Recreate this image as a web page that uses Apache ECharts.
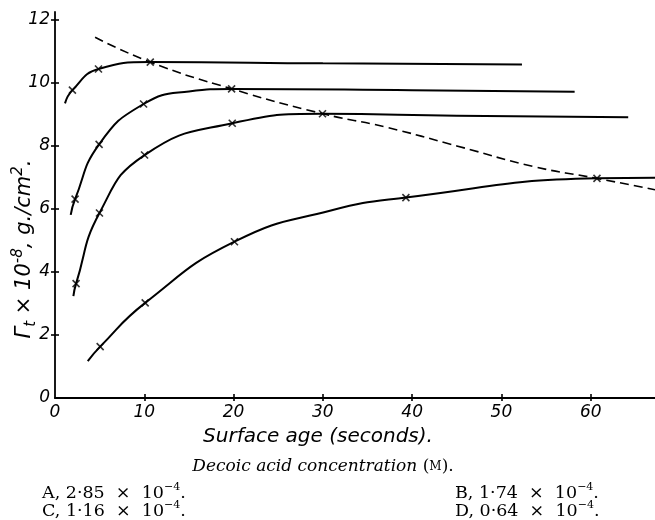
<!DOCTYPE html>
<html><head><meta charset="utf-8">
<script src="https://cdn.jsdelivr.net/npm/echarts@6/dist/echarts.min.js"></script>
<style>html,body{margin:0;padding:0;background:#fff}#c{width:655px;height:520px}</style>
</head><body><div id="c"></div>
<script>
// ---- data ----
const xTicks = [10, 20, 30, 40, 50, 60];
const yTicks = [2, 4, 6, 8, 10, 12];
const xTickLabels = [0, 10, 20, 30, 40, 50, 60];
const yTickLabels = [0, 2, 4, 6, 8, 10, 12];

const lineA_t = [1.12, 1.95, 4.87, 10.67, 30, 52.3];
const lineA_v = [9.35, 9.77, 10.44, 10.66, 10.62, 10.58];
const markA_t = [1.95, 4.87, 10.67];
const markA_v = [9.77, 10.44, 10.66];

const lineB_t = [1.76, 2.25, 4.94, 9.92, 15, 19.78, 40, 58.2];
const lineB_v = [5.81, 6.31, 8.05, 9.33, 9.73, 9.81, 9.77, 9.72];
const markB_t = [2.25, 4.94, 9.92, 19.78];
const markB_v = [6.31, 8.05, 9.33, 9.81];

const lineC_t = [2.06, 2.36, 4.98, 10.03, 19.85, 29.96, 45, 64.2];
const lineC_v = [3.23, 3.63, 5.87, 7.71, 8.72, 9.02, 8.96, 8.91];
const markC_t = [2.36, 4.98, 10.03, 19.85, 29.96];
const markC_v = [3.63, 5.87, 7.71, 8.72, 9.02];

const lineD_t = [3.67, 5.06, 10.1, 20.1, 30.9, 39.3, 60.7, 67.2];
const lineD_v = [1.17, 1.63, 3.02, 4.96, 5.95, 6.36, 6.97, 6.99];
const markD_t = [5.06, 10.1, 20.1, 39.3, 60.7];
const markD_v = [1.63, 3.02, 4.96, 6.36, 6.97];

const dash_t = [4.49, 10.67, 19.8, 30, 37, 45, 53.7, 60.7, 67.2];
const dash_v = [11.45, 10.66, 9.81, 9.02, 8.6, 8.0, 7.34, 6.97, 6.61];

const curveNames = ['A', 'B', 'C', 'D'];
const nameLabel_t = [41.8, 41.9, 41.8, 41.9];
const nameLabel_v = [11.0, 10.04, 9.3, 6.82];

const concLetters = ['A', 'B', 'C', 'D'];
const concValues = ['2·85', '1·74', '1·16', '0·64'];

// ---- build ----
const zip = (a, b) => a.map((v, i) => [v, b[i]]);
const XMIN = 0, XMAX = 67.2, YMIN = 0, YMAX = 12.25;
const axisFont = { fontFamily: 'DejaVu Sans', fontStyle: 'italic', fontSize: 17, color: '#000' };
const crossPath = 'path://M0,0L10,10M10,0L0,10';

function curve(t, v, dashed) {
  return {
    type: 'line', data: zip(t, v), smooth: 0.5, symbol: 'none',
    lineStyle: { color: '#000', width: dashed ? 1.6 : 2, type: dashed ? [9, 5] : 'solid' },
    silent: true, z: 2
  };
}
function marks(t, v) {
  return {
    type: 'scatter', data: zip(t, v), symbol: crossPath, symbolSize: 7,
    itemStyle: { color: 'none', borderColor: '#000', borderWidth: 1.6 }, silent: true, z: 3
  };
}

const series = [
  curve(lineA_t, lineA_v), marks(markA_t, markA_v),
  curve(lineB_t, lineB_v), marks(markB_t, markB_v),
  curve(lineC_t, lineC_v), marks(markC_t, markC_v),
  curve(lineD_t, lineD_v), marks(markD_t, markD_v),
  curve(dash_t, dash_v, true),
  {
    type: 'scatter', symbol: 'none', silent: true, z: 4,
    data: curveNames.map((n, i) => ({ value: [nameLabel_t[i], nameLabel_v[i]], name: n })),
    label: { show: true, position: 'inside', formatter: '{b}', fontFamily: 'DejaVu Serif', fontWeight: 'bold', fontSize: 17, color: '#000' }
  }
];

const chart = echarts.init(document.getElementById('c'), null, { renderer: 'canvas' });
const graphic = [
  {
    type: 'text', x: 25, y: 249, rotation: Math.PI / 2,
    style: {
      text: '{n|Γ}{sub|t}{n| × 10}{sup|-8}{n|, g./cm}{sup|2}{n|.}',
      align: 'center', verticalAlign: 'middle',
      rich: {
        n: { fontFamily: 'DejaVu Sans', fontStyle: 'italic', fontSize: 21, fill: '#000', lineHeight: 28, verticalAlign: 'middle' },
        sub: { fontFamily: 'DejaVu Sans', fontStyle: 'italic', fontSize: 15, fill: '#000', lineHeight: 28, verticalAlign: 'bottom' },
        sup: { fontFamily: 'DejaVu Sans', fontStyle: 'italic', fontSize: 15, fill: '#000', lineHeight: 28, verticalAlign: 'top' }
      }
    }
  },
  {
    type: 'text', x: 318, y: 437,
    style: {
      text: 'Surface age (seconds).', align: 'center', verticalAlign: 'middle',
      fontFamily: 'DejaVu Sans', fontStyle: 'italic', fontSize: 20, fill: '#000'
    }
  },
  {
    type: 'text', x: 323, y: 467,
    style: {
      text: '{i|Decoic acid concentration }{n|(}{s|M}{n|).}',
      align: 'center', verticalAlign: 'middle',
      rich: {
        i: { fontFamily: 'DejaVu Serif', fontStyle: 'italic', fontSize: 17, fill: '#000' },
        n: { fontFamily: 'DejaVu Serif', fontSize: 17, fill: '#000' },
        s: { fontFamily: 'DejaVu Serif', fontSize: 12, fill: '#000' }
      }
    }
  }
];
const concPos = [[42, 492], [455, 492], [42, 510], [455, 510]];
concLetters.forEach((L, i) => {
  graphic.push({
    type: 'text', x: concPos[i][0], y: concPos[i][1],
    style: {
      text: `{n|${L}, ${concValues[i]}  ×  10}{sup|−4}{n|.}`,
      align: 'left', verticalAlign: 'middle',
      rich: {
        n: { fontFamily: 'DejaVu Serif', fontSize: 17.5, fill: '#000', verticalAlign: 'bottom', lineHeight: 20 },
        sup: { fontFamily: 'DejaVu Serif', fontSize: 11, fill: '#000', verticalAlign: 'top', lineHeight: 20 }
      }
    }
  });
});

chart.setOption({
  animation: false,
  grid: { left: 55, right: 0, top: 12, bottom: 122, containLabel: false, outerBoundsMode: 'none' },
  xAxis: [
    {
      type: 'value', min: XMIN, max: XMAX,
      axisLine: { show: true, lineStyle: { color: '#000', width: 1.8 } },
      axisTick: { show: true, customValues: xTicks, length: 3, inside: false, lineStyle: { color: '#000', width: 1.6 } },
      axisLabel: Object.assign({ show: true, customValues: xTickLabels, margin: 6 }, axisFont),
      splitLine: { show: false }
    },
    {
      type: 'value', min: XMIN, max: XMAX, position: 'bottom', gridIndex: 0,
      axisLine: { show: false }, axisLabel: { show: false }, splitLine: { show: false },
      axisTick: { show: true, customValues: xTicks, length: 4, inside: true, lineStyle: { color: '#000', width: 1.6 } }
    }
  ],
  yAxis: [
    {
      type: 'value', min: YMIN, max: YMAX,
      axisLine: { show: true, lineStyle: { color: '#000', width: 1.8 } },
      axisTick: { show: true, customValues: yTicks, length: 4, inside: false, lineStyle: { color: '#000', width: 1.6 } },
      axisLabel: Object.assign({ show: true, customValues: yTickLabels, margin: 5 }, axisFont),
      splitLine: { show: false }
    },
    {
      type: 'value', min: YMIN, max: YMAX, position: 'left', gridIndex: 0,
      axisLine: { show: false }, axisLabel: { show: false }, splitLine: { show: false },
      axisTick: { show: true, customValues: yTicks, length: 4, inside: true, lineStyle: { color: '#000', width: 1.6 } }
    }
  ],
  graphic: graphic,
  series: series
});
</script>
</body></html>
